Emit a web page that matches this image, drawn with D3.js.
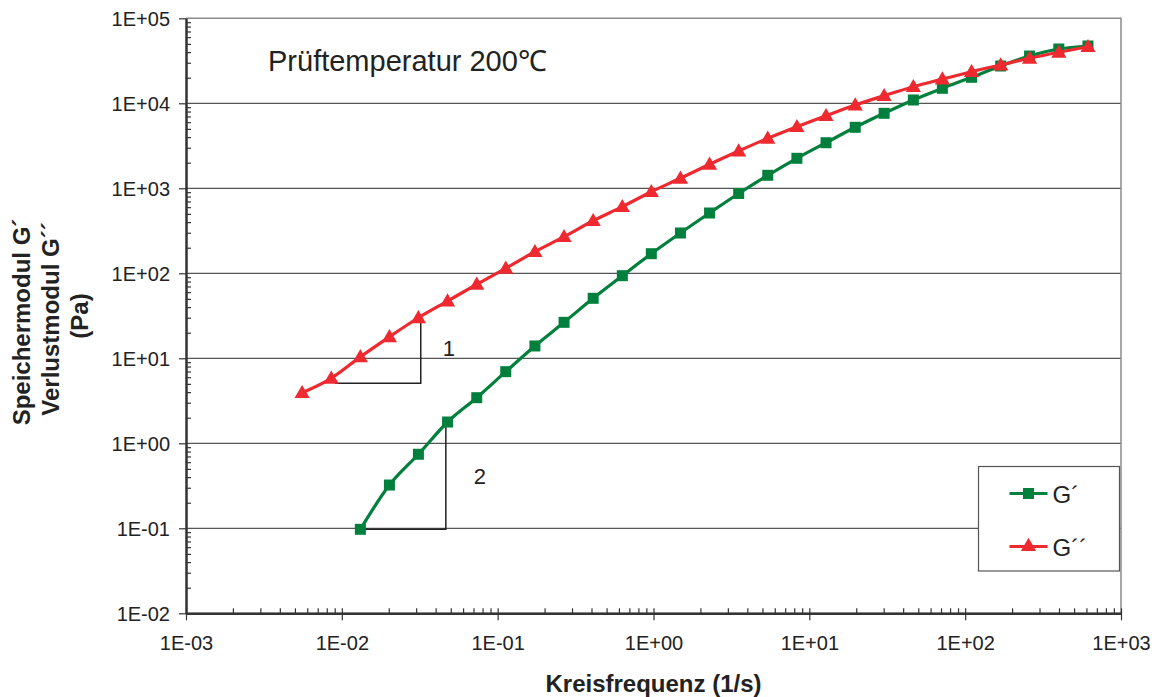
<!DOCTYPE html>
<html>
<head>
<meta charset="utf-8">
<script src="https://cdn.jsdelivr.net/npm/d3@7"></script>
<style>
  body { margin: 0; background: #fff; }
  text { font-family: "Liberation Sans", Arial, Helvetica, sans-serif; fill: #222; }
</style>
</head>
<body>
<div id="container"></div>
<script>
// Kreisfrequenz (1/s)
const freqs = [0.00556, 0.00855, 0.01315, 0.0202, 0.0310, 0.0477, 0.0734, 0.1127, 0.1734, 0.2667,
  0.410, 0.631, 0.968, 1.489, 2.29, 3.52, 5.41, 8.32, 12.8, 19.7,
  30.2, 46.5, 71.4, 109.9, 169, 259, 399, 614];

// G' starts at the third frequency
const gStorage = [0.0973, 0.323, 0.743, 1.78, 3.44, 6.96, 13.96, 26.5, 50.8, 93.7,
  170, 298, 512, 869, 1422, 2254, 3437, 5220, 7625, 10940,
  15010, 20220, 27470, 35990, 43530, 47230];

const gLoss = [3.94, 5.82, 10.4, 17.9, 30.0, 47.2, 74.2, 114.5, 179.6, 269.6,
  415.6, 608, 912, 1312, 1916, 2746, 3875, 5306, 7148, 9550,
  12280, 15680, 19300, 23540, 28230, 33830, 39810, 46340];

const xDecades = [-3, -2, -1, 0, 1, 2, 3];
const yDecades = [-2, -1, 0, 1, 2, 3, 4, 5];

// slope triangles: [x0, x1, yBase, yTop]
const slopeLoss = [0.00904, 0.0321, 5.08, 28.5];
const slopeStorage = [0.01343, 0.0465, 0.0973, 1.73];

const green = '#00803c';
const red = '#ee2a30';

const W = 1159, H = 697;
const plotL = 186, plotR = 1121, plotT = 18.3, plotB = 613.3;

const svg = d3.select('#container').append('svg')
  .attr('width', W)
  .attr('height', H);

svg.append('rect').attr('width', W).attr('height', H).attr('fill', '#fff');

const x = d3.scaleLog().domain([1e-3, 1e3]).range([plotL, plotR]);
const y = d3.scaleLog().domain([1e-2, 1e5]).range([plotB, plotT]);

const fmt = e => '1E' + (e < 0 ? '-' : '+') + String(Math.abs(e)).padStart(2, '0');

const majorX = xDecades.map(e => Math.pow(10, e));
const majorY = yDecades.map(e => Math.pow(10, e));
const minorX = [];
xDecades.slice(0, -1).forEach(e => { for (let k = 2; k < 10; k++) minorX.push(k * Math.pow(10, e)); });
const minorY = [];
yDecades.slice(0, -1).forEach(e => { for (let k = 2; k < 10; k++) minorY.push(k * Math.pow(10, e)); });

// gridlines
svg.append('g')
  .selectAll('line')
  .data(majorY.slice(1, -1))
  .enter()
  .append('line')
  .attr('x1', plotL).attr('x2', plotR)
  .attr('y1', d => y(d)).attr('y2', d => y(d))
  .style('stroke', '#555')
  .style('stroke-width', 1.2);

// top and right frame
svg.append('path')
  .attr('d', `M${plotL},${plotT}H${plotR}V${plotB}`)
  .attr('fill', 'none')
  .style('stroke', '#8a8a8a')
  .style('stroke-width', 1.5);

// x axis
const xAxis = svg.append('g')
  .attr('transform', `translate(0,${plotB})`)
  .call(d3.axisBottom(x).tickValues(majorX).tickFormat((d, i) => fmt(xDecades[i])).tickSizeInner(7).tickSizeOuter(0).tickPadding(16));
xAxis.append('g').call(d3.axisBottom(x).tickValues(majorX).tickFormat('').tickSizeInner(-5).tickSizeOuter(0));
xAxis.append('g').call(d3.axisBottom(x).tickValues(minorX).tickFormat('').tickSizeInner(-5).tickSizeOuter(0));

// y axis
const yAxis = svg.append('g')
  .attr('transform', `translate(${plotL},0)`)
  .call(d3.axisLeft(y).tickValues(majorY).tickFormat((d, i) => fmt(yDecades[i])).tickSizeInner(7).tickSizeOuter(0).tickPadding(9));
yAxis.append('g').call(d3.axisLeft(y).tickValues(minorY).tickFormat('').tickSizeInner(-5).tickSizeOuter(0));

svg.selectAll('.domain').style('stroke', '#333').style('stroke-width', 2);
svg.selectAll('.tick line').style('stroke', '#333').style('stroke-width', 1.2);
svg.selectAll('.tick text')
  .style('font-size', '20px')
  .style('font-family', '"Liberation Sans", Arial, sans-serif')
  .style('fill', '#222');
yAxis.selectAll('.tick text').attr('dy', '0.35em');

// axis titles
svg.append('text')
  .attr('x', (plotL + plotR) / 2)
  .attr('y', 692)
  .attr('text-anchor', 'middle')
  .style('font-size', '24px')
  .style('font-weight', 'bold')
  .text('Kreisfrequenz (1/s)');

const yTitle = ['Speichermodul G\u00b4', 'Verlustmodul G\u00b4\u00b4', '(Pa)'];
svg.selectAll('.ytitle')
  .data(yTitle)
  .enter()
  .append('text')
  .attr('class', 'ytitle')
  .attr('transform', (d, i) => `translate(${30 + i * 29},${322 - i * 3}) rotate(-90)`)
  .attr('text-anchor', 'middle')
  .style('font-size', '24px')
  .style('font-weight', 'bold')
  .text(d => d);

// annotation
svg.append('text')
  .attr('x', 268)
  .attr('y', 71)
  .style('font-size', '29px')
  .text('Prüftemperatur 200\u2103');

// slope triangles
const tri = svg.append('g').style('stroke', '#222').style('stroke-width', 1.5).attr('fill', 'none');
[slopeLoss, slopeStorage].forEach(s => {
  tri.append('path')
    .attr('d', `M${x(s[0])},${y(s[2])}H${x(s[1])}V${y(s[3])}`);
});
svg.append('text').attr('x', x(slopeLoss[1]) + 22).attr('y', 356).style('font-size', '22px').text('1');
svg.append('text').attr('x', x(slopeStorage[1]) + 28).attr('y', 484).style('font-size', '22px').text('2');

// series
const line = d3.line()
  .x(d => x(d[0]))
  .y(d => y(d[1]))
  .curve(d3.curveMonotoneX);

const storagePts = gStorage.map((v, i) => [freqs[i + 2], v]);
const lossPts = gLoss.map((v, i) => [freqs[i], v]);

const triSym = d3.symbol().type(d3.symbolTriangle).size(100);
const sq = 11;

function drawSeries(pts, color, marker) {
  svg.append('path')
    .datum(pts)
    .attr('d', line)
    .attr('fill', 'none')
    .style('stroke', color)
    .style('stroke-width', 3.2);
  const g = svg.append('g');
  if (marker === 'square') {
    g.selectAll('rect').data(pts).enter().append('rect')
      .attr('x', d => x(d[0]) - sq / 2).attr('y', d => y(d[1]) - sq / 2)
      .attr('width', sq).attr('height', sq)
      .attr('fill', color);
  } else {
    g.selectAll('path').data(pts).enter().append('path')
      .attr('d', triSym)
      .attr('transform', d => `translate(${x(d[0])},${y(d[1]) + 1})`)
      .attr('fill', color);
  }
}

drawSeries(storagePts, green, 'square');
drawSeries(lossPts, red, 'triangle');

// legend
const legend = svg.append('g').attr('transform', 'translate(978.5,466.5)');
legend.append('rect')
  .attr('width', 141).attr('height', 104.5)
  .attr('fill', '#fff')
  .style('stroke', '#555')
  .style('stroke-width', 1.2);
const items = [['G\u00b4', green, 'square'], ['G\u00b4\u00b4', red, 'triangle']];
items.forEach((it, i) => {
  const cy = 27 + i * 53;
  legend.append('line').attr('x1', 31).attr('x2', 69).attr('y1', cy).attr('y2', cy)
    .style('stroke', it[1]).style('stroke-width', 3);
  if (it[2] === 'square') {
    legend.append('rect').attr('x', 50 - sq / 2).attr('y', cy - sq / 2).attr('width', sq).attr('height', sq).attr('fill', it[1]);
  } else {
    legend.append('path').attr('d', triSym).attr('transform', `translate(50,${cy})`).attr('fill', it[1]);
  }
  legend.append('text').attr('x', 74).attr('y', cy + 9).style('font-size', '24px').text(it[0]);
});
</script>
</body>
</html>
